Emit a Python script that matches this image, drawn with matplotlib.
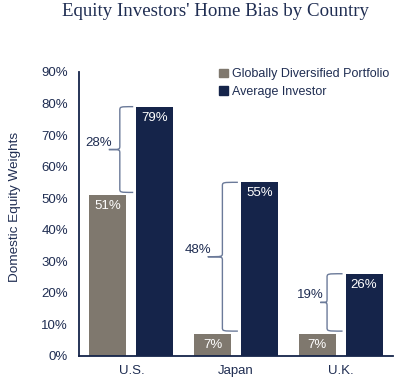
import matplotlib
matplotlib.use("Agg")
import matplotlib.pyplot as plt
from matplotlib.path import Path
from matplotlib.patches import PathPatch, Patch
import numpy as np

countries = ["U.S.", "Japan", "U.K."]
global_div = [0.51, 0.07, 0.07]
avg_investor = [0.79, 0.55, 0.26]
gap_labels = ["28%", "48%", "19%"]
yticks = [0, 0.1, 0.2, 0.3, 0.4, 0.5, 0.6, 0.7, 0.8, 0.9]

NAVY = "#15244a"
GRAY = "#7f786e"
TEXT = "#1f2d52"
BRACE = "#6b7a99"

plt.rcParams['font.family'] = ['Liberation Sans', 'DejaVu Sans']

fig = plt.figure(figsize=(4.0, 3.86), dpi=100)
ax = fig.add_axes([0.1975, 0.0785, 0.785, 0.735])

x = np.arange(len(countries))
w = 0.353
off = w / 2 + 0.0475
ax.bar(x - off, global_div, w, color=GRAY, label="Globally Diversified Portfolio")
ax.bar(x + off, avg_investor, w, color=NAVY, label="Average Investor")

for xi, v in zip(x - off, global_div):
    ax.text(xi, v - 0.035, f"{round(v*100)}%", color="white", ha="center", va="center", fontsize=9.5)
for xi, v in zip(x + off, avg_investor):
    ax.text(xi, v - 0.035, f"{round(v*100)}%", color="white", ha="center", va="center", fontsize=9.5)

def brace(ax, xr, xs, xt, y0, y1):
    ym = (y0 + y1) / 2
    r = min(0.012, (y1 - y0) / 6)
    verts = [
        (xr, y1), (xs, y1), (xs, y1), (xs, y1 - r),
        (xs, ym + r),
        (xs, ym), (xs, ym), (xt, ym),
        (xs, ym), (xs, ym), (xs, ym - r),
        (xs, y0 + r),
        (xs, y0), (xs, y0), (xr, y0),
    ]
    codes = [Path.MOVETO, Path.CURVE4, Path.CURVE4, Path.CURVE4,
             Path.LINETO,
             Path.CURVE4, Path.CURVE4, Path.CURVE4,
             Path.CURVE4, Path.CURVE4, Path.CURVE4,
             Path.LINETO,
             Path.CURVE4, Path.CURVE4, Path.CURVE4]
    ax.add_patch(PathPatch(Path(verts, codes), fill=False, edgecolor=BRACE, lw=1.0))

tips = [-0.215, -0.27, -0.195]
spines = [-0.11, -0.13, -0.13]
for i in range(len(countries)):
    top = avg_investor[i]
    bot = global_div[i] + 0.008
    brace(ax, x[i] + 0.018, x[i] + spines[i], x[i] + tips[i], bot, top)
    ax.text(x[i] + tips[i] + 0.03, (top + bot) / 2 + 0.022, gap_labels[i],
            ha="right", va="center", color=TEXT, fontsize=9.5)

ax.set_xlim(-0.5, 2.5)
ax.set_ylim(0, 0.9)
ax.set_xticks(x)
ax.set_xticklabels(countries)
ax.set_yticks(yticks)
ax.set_yticklabels([f"{round(t*100)}%" for t in yticks])
ax.tick_params(axis="both", length=0, colors=TEXT, labelsize=9.5)
ax.tick_params(axis="x", pad=7)
ax.tick_params(axis="y", pad=8)
for s in ["top", "right"]:
    ax.spines[s].set_visible(False)
for s in ["left", "bottom"]:
    ax.spines[s].set_color(NAVY)
    ax.spines[s].set_linewidth(1.3)

ax.set_ylabel("Domestic Equity Weights", color=TEXT, fontsize=9.7)
ax.yaxis.set_label_coords(-0.185, 0.523)

handles = [Patch(color=GRAY), Patch(color=NAVY)]
leg = ax.legend(handles, ["Globally Diversified Portfolio", "Average Investor"],
                loc="upper left", bbox_to_anchor=(0.43, 1.03), frameon=False,
                handlelength=0.7, handleheight=0.7, handletextpad=0.35,
                labelspacing=0.45, fontsize=9, borderaxespad=0)
for t in leg.get_texts():
    t.set_color(TEXT)

fig.text(0.54, 0.97, "Equity Investors' Home Bias by Country", ha="center", va="center",
         family=["Liberation Serif"], fontsize=13.6, color=TEXT)

fig.savefig("out.png", dpi=100)
